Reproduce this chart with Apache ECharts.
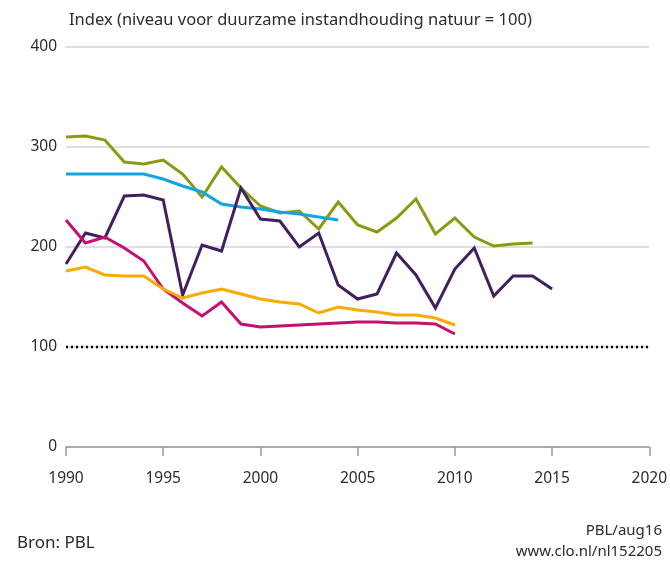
<!DOCTYPE html>
<html>
<head>
<meta charset="utf-8">
<script src="https://cdn.jsdelivr.net/npm/echarts@6/dist/echarts.min.js"></script>
<style>
  html, body { margin: 0; padding: 0; background: #fff; }
  #chart { width: 670px; height: 561px; }
</style>
</head>
<body>
<div id="chart"></div>
<script>
// jaren
var years = [1990, 1991, 1992, 1993, 1994, 1995, 1996, 1997, 1998, 1999, 2000,
  2001, 2002, 2003, 2004, 2005, 2006, 2007, 2008, 2009, 2010, 2011, 2012, 2013, 2014, 2015];

// reeksen (index), null = geen waarde
var olive = [310, 311, 307, 285, 283, 287, 273, 250, 280, 259, 241,
  234, 236, 218, 245, 222, 215, 229, 248, 213, 229, 210, 201, 203, 204, null];
var blue = [273, 273, 273, 273, 273, 268, 261, 255, 243, 240, 238,
  235, 233, 230, 227];
var purple = [183, 214, 209, 251, 252, 247, 152, 202, 196, 259, 228,
  226, 200, 214, 162, 148, 153, 194, 172, 139, 178, 199, 151, 171, 171, 158];
var magenta = [227, 204, 210, 199, 186, 158, 144, 131, 145, 123, 120,
  121, 122, 123, 124, 125, 125, 124, 124, 123, 113];
var orange = [176, 180, 172, 171, 171, 158, 149, 154, 158, 153, 148,
  145, 143, 134, 140, 137, 135, 132, 132, 129, 122];

var normLevel = 100;
var yTicks = [0, 100, 200, 300, 400];

function pairs(vals) {
  var out = [];
  for (var i = 0; i < vals.length; i++) {
    if (vals[i] != null) out.push([years[i], vals[i]]);
  }
  return out;
}

function lineSeries(name, vals, color) {
  return {
    name: name,
    type: 'line',
    data: pairs(vals),
    symbol: 'none',
    lineStyle: { color: color, width: 3, join: 'miter' },
    z: 3
  };
}

var font = 'Noto Sans';
var txt = '#2b2b2b';
var myChart = echarts.init(document.getElementById('chart'));
myChart.setOption({
  animation: false,
  backgroundColor: '#fff',
  textStyle: { fontFamily: font },
  title: [
    { text: 'Index (niveau voor duurzame instandhouding natuur = 100)', left: 64, top: 7,
      textStyle: { fontSize: 16.5, fontWeight: 'normal', color: txt, fontFamily: font } },
    { text: 'Bron: PBL', left: 12, top: 530,
      textStyle: { fontSize: 17, fontWeight: 'normal', color: txt, fontFamily: font } }
  ],
  graphic: [
    { type: 'text', right: 8, top: 523,
      style: { text: 'PBL/aug16', fontSize: 15, fill: txt, fontFamily: font } },
    { type: 'text', right: 8, top: 544,
      style: { text: 'www.clo.nl/nl152205', fontSize: 15, fill: txt, fontFamily: font } }
  ],
  grid: { left: 66, right: 20, top: 47, bottom: 114, containLabel: false },
  xAxis: {
    type: 'value',
    min: 1990, max: 2020, interval: 5,
    axisLine: { show: true, lineStyle: { color: '#999', width: 1.5 } },
    axisTick: { show: true, length: 9, lineStyle: { color: '#999', width: 1.5 } },
    axisLabel: { margin: 24, fontSize: 15.5, color: txt, fontFamily: font,
      formatter: function (v) { return String(v); } },
    splitLine: { show: false }
  },
  yAxis: {
    type: 'value',
    min: yTicks[0], max: yTicks[yTicks.length - 1], interval: 100,
    axisLine: { show: false },
    axisTick: { show: false },
    axisLabel: { margin: 9, fontSize: 15.5, color: txt, fontFamily: font },
    splitLine: { show: true, lineStyle: { color: '#d4d4d4', width: 1.5 } }
  },
  series: [
    lineSeries('olive', olive, '#8b9a12'),
    lineSeries('blue', blue, '#11a6e2'),
    lineSeries('purple', purple, '#42205f'),
    lineSeries('magenta', magenta, '#c70f6f'),
    lineSeries('orange', orange, '#f9ab00'),
    {
      name: 'norm',
      type: 'line',
      data: [[1990, normLevel], [2020, normLevel]],
      symbol: 'none',
      lineStyle: { color: '#000', width: 2.5, type: [2, 3] },
      z: 2
    }
  ]
});
</script>
</body>
</html>
